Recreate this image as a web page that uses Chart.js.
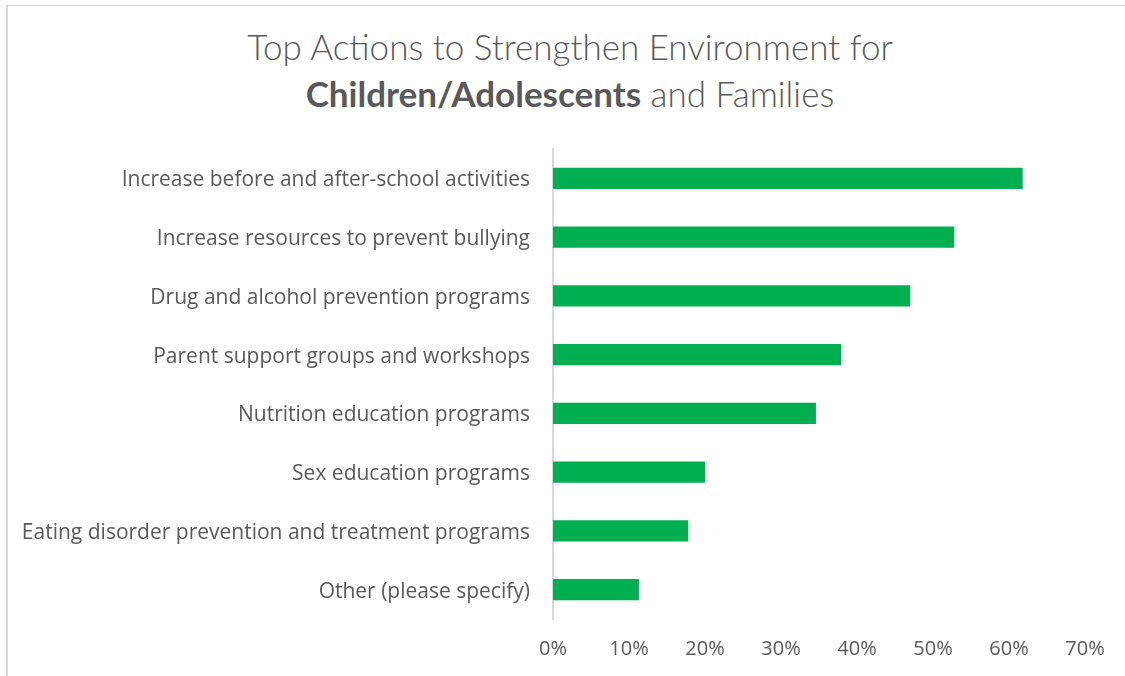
<!DOCTYPE html>
<html>
<head>
<meta charset="utf-8">
<script src="https://cdn.jsdelivr.net/npm/chart.js@4/dist/chart.umd.min.js"></script>
<style>
  html, body { margin: 0; padding: 0; background: #ffffff; }
  body { width: 1125px; height: 676px; position: relative; overflow: hidden; }
  .frame {
    position: absolute; left: 6px; top: 5px; width: 1200px; height: 700px;
    border-top: 1px solid #d9d9d9; border-left: 2px solid #d9d9d9;
  }
  .title {
    position: absolute; left: 0; top: 23px; width: 1140px; text-align: center;
    font-family: Lato, "Open Sans", sans-serif; font-weight: 300;
    font-size: 35px; line-height: 47px; color: #595959;
  }
  .title b { font-weight: 700; }
  #chart { position: absolute; left: 0; top: 0; }
</style>
</head>
<body>
<div class="frame"></div>
<div class="title">Top Actions to Strengthen Environment for<br><b>Children/Adolescents</b> and Families</div>
<canvas id="chart" width="1125" height="676"></canvas>
<script>
const categories = [
  "Increase before and after-school activities",
  "Increase resources to prevent bullying",
  "Drug and alcohol prevention programs",
  "Parent support groups and workshops",
  "Nutrition education programs",
  "Sex education programs",
  "Eating disorder prevention and treatment programs",
  "Other (please specify)"
];
const shares = [61.8, 52.8, 47.0, 37.9, 34.6, 20.0, 17.8, 11.3];
const xTicks = [0, 10, 20, 30, 40, 50, 60, 70];

const textColor = "#595959";
const fontFamily = "'Open Sans', Lato, sans-serif";

new Chart(document.getElementById("chart"), {
  type: "bar",
  data: {
    labels: categories,
    datasets: [{
      data: shares,
      backgroundColor: "#00B050",
      borderWidth: 0,
      barPercentage: 1,
      categoryPercentage: 0.36
    }]
  },
  options: {
    indexAxis: "y",
    responsive: false,
    animation: false,
    layout: { padding: { top: 149, right: 40, bottom: 0, left: 0 } },
    plugins: { legend: { display: false }, tooltip: { enabled: false } },
    scales: {
      x: {
        min: 0, max: 70,
        afterBuildTicks: (s) => { s.ticks = xTicks.map(v => ({ value: v })); },
        afterFit: (s) => { s.height = 57; },
        grid: { display: false, drawTicks: false },
        border: { display: false },
        ticks: {
          color: textColor, padding: 18,
          font: { family: fontFamily, size: 20 },
          callback: (v) => v + "%"
        }
      },
      y: {
        afterFit: (s) => { s.width = 553; },
        grid: { drawOnChartArea: false, drawTicks: false },
        border: { display: true, color: "#d9d9d9", width: 2 },
        ticks: {
          color: textColor, padding: 23, labelOffset: 2,
          font: { family: fontFamily, size: 21 }
        }
      }
    }
  }
});
</script>
</body>
</html>
